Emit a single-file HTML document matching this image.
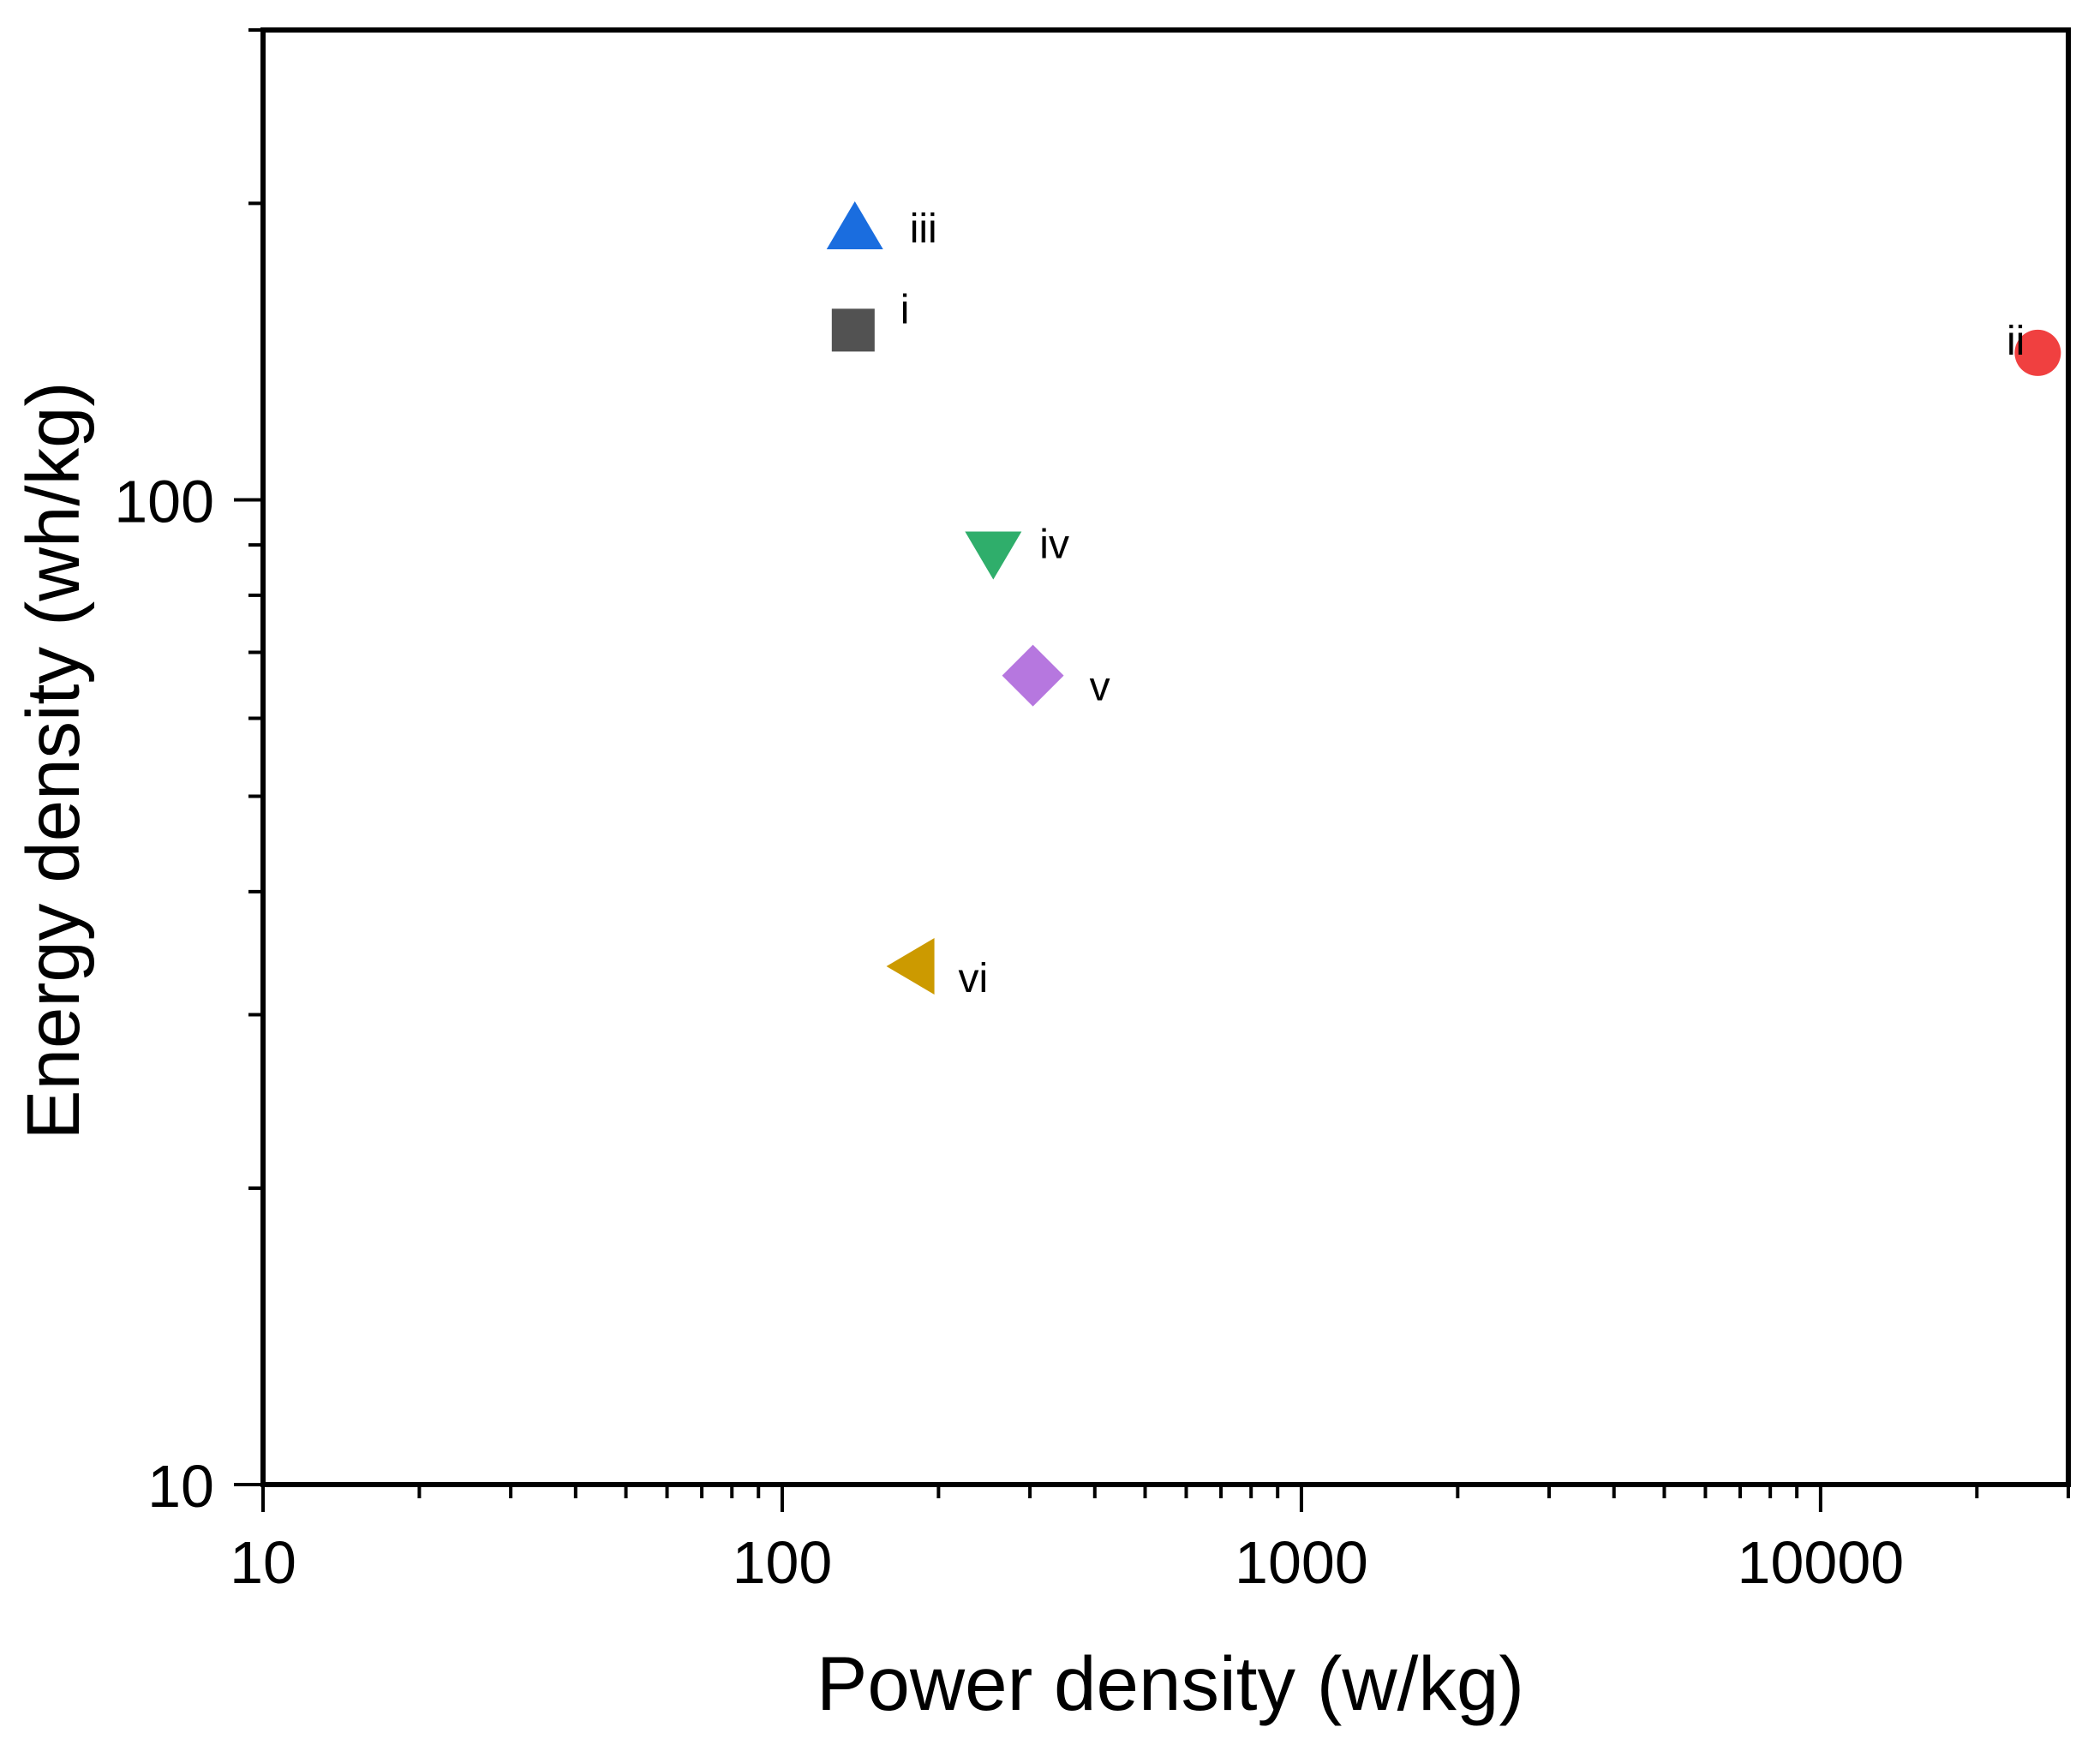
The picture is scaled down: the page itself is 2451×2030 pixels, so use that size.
<!DOCTYPE html>
<html><head><meta charset="utf-8"><style>
html,body{margin:0;padding:0;background:#fff;}
svg{display:block;font-family:"Liberation Sans",Arial,sans-serif;}
</style></head><body>
<svg id="chart" width="2451" height="2030" viewBox="0 0 2451 2030">
<g id="axes"></g><g id="marks"></g>
</svg>
<script>
const labels = ["i","ii","iii","iv","v","vi"];
const powerValues = [137, 26200, 138, 255, 304, 182];
const energyValues = [148.7, 141, 187, 89.2, 66.3, 33.6];
const shapes = ["square","circle","triangle-up","triangle-down","diamond","triangle-left"];
const colors = ["#525252","#f04040","#1a6ddf","#2fae6b","#b677df","#cc9a00"];
const xTicks = [10, 100, 1000, 10000];
const yTicks = [10, 100];

const L=307, R=2414, T=35, B=1733;
const xMin=1, xMax=Math.log10(30000), yMin=1, yMax=Math.log10(300);
const xs = v => L + (Math.log10(v)-xMin)/(xMax-xMin)*(R-L);
const ys = v => B - (Math.log10(v)-yMin)/(yMax-yMin)*(B-T);
const NS="http://www.w3.org/2000/svg";
const axes=document.getElementById('axes'), marks=document.getElementById('marks');
function mk(tag, attrs, parent){const e=document.createElementNS(NS,tag);for(const k in attrs)e.setAttribute(k,attrs[k]);parent.appendChild(e);return e;}

const frame = mk('rect',{x:L,y:T,width:R-L,height:B-T,fill:'none',stroke:'#000','stroke-width':6},axes);



for(let d=10; d<30000; d*=10){
  for(let m=1;m<10;m++){
    const v=d*m; if(v>30000) break;
    const x=xs(v), major=(m===1);
    const t=mk('line',{x1:x,y1:B,x2:x,y2:B+(major?32:16),stroke:'#000','stroke-width':4},axes);
    
    
  }
}
xTicks.forEach(v=>{
  const t=mk('text',{x:xs(v),y:1848,'font-size':70,'text-anchor':'middle',fill:'#000'},axes);
  t.textContent=v;
  
  
});
for(let d=10; d<300; d*=10){
  for(let m=1;m<10;m++){
    const v=d*m; if(v>300) break;
    const y=ys(v), major=(m===1);
    const t=mk('line',{x1:L,y1:y,x2:L-(major?34:17),y2:y,stroke:'#000','stroke-width':4},axes);
    
    
  }
}
yTicks.forEach(v=>{
  const t=mk('text',{x:250,y:ys(v)+26,'font-size':70,'text-anchor':'end',fill:'#000'},axes);
  t.textContent=v;
  
  
});
const xt=mk('text',{x:1366,y:1996,'font-size':89,'text-anchor':'middle',fill:'#000'},axes);
xt.textContent='Power density (w/kg)';


const yt=mk('text',{x:0,y:0,'font-size':87,'text-anchor':'middle',fill:'#000',transform:'translate(92,888) rotate(-90)'},axes);
yt.textContent='Energy density (wh/kg)';



labels.forEach((lab,i)=>{
  const cx=xs(powerValues[i]), cy=ys(energyValues[i]), c=colors[i];
  let m;
  switch(shapes[i]){
    case 'square': m=mk('rect',{x:cx-25,y:cy-25,width:50,height:50,fill:c},marks); break;
    case 'circle': m=mk('circle',{cx:cx,cy:cy,r:27,fill:c},marks); break;
    case 'triangle-up': m=mk('polygon',{points:`${cx},${cy-36} ${cx+33},${cy+20} ${cx-33},${cy+20}`,fill:c},marks); break;
    case 'triangle-down': m=mk('polygon',{points:`${cx},${cy+36} ${cx+33},${cy-20} ${cx-33},${cy-20}`,fill:c},marks); break;
    case 'diamond': m=mk('polygon',{points:`${cx},${cy-36} ${cx+36},${cy} ${cx},${cy+36} ${cx-36},${cy}`,fill:c},marks); break;
    case 'triangle-left': m=mk('polygon',{points:`${cx-36},${cy} ${cx+20},${cy-33} ${cx+20},${cy+33}`,fill:c},marks); break;
  }
  
  
  let tx, anchor='start', ty=cy+16;
  if(lab==='ii'){tx=cx-15; anchor='end'; ty=cy+2;}
  else if(lab==='i'){tx=cx+55; ty=cy-8;}
  else if(lab==='iii'){tx=cx+64; ty=cy+12;}
  else if(lab==='iv'){tx=cx+54; ty=cy+11;}
  else if(lab==='v'){tx=cx+66; ty=cy+29;}
  else {tx=cx+48; ty=cy+30;}
  const t=mk('text',{x:tx,y:ty,'font-size':48,'text-anchor':anchor,fill:'#000'},marks);
  t.textContent=lab;
  
  
});
</script>
</body></html>
